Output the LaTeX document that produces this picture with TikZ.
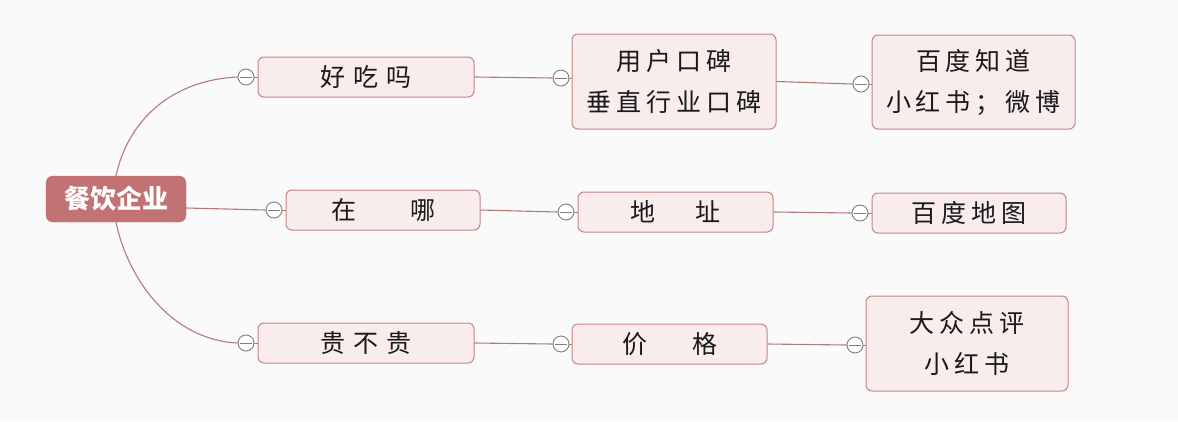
\documentclass[tikz,border=0pt]{standalone}
\usepackage{fontspec}
\setmainfont{Noto Sans CJK SC}
\definecolor{bg}{HTML}{FAFAFA}
\definecolor{rootfill}{HTML}{C27272}
\definecolor{boxfill}{HTML}{F8ECEC}
\definecolor{boxline}{HTML}{C98484}
\definecolor{conn}{HTML}{B47A7A}
\definecolor{knob}{HTML}{7F7F7F}
\newcommand\gp{\hspace{5pt}}
\begin{document}
\begin{tikzpicture}[x=1pt,y=-1pt,
  rootbox/.style={rounded corners=7pt, fill=rootfill, draw=rootfill, text=white,
    font=\fontsize{26}{28}\selectfont\bfseries, minimum width=140pt, minimum height=46pt, inner sep=0pt},
  topicbox/.style={rounded corners=6pt, fill=boxfill, draw=boxline, line width=1pt,
    font=\fontsize{25}{42}\selectfont, text=black!90, inner sep=0pt, align=center},
  knobc/.style={circle, draw=knob, fill=white, line width=0.9pt, minimum size=16pt, inner sep=0pt,
    path picture={\draw[knob, line width=0.9pt] ([xshift=-6pt]path picture bounding box.center) -- ([xshift=6pt]path picture bounding box.center);}},
  link/.style={draw=conn, line width=1.1pt}
]
\fill[bg] (0,0) rectangle (1178,421);
\useasboundingbox (0,0) rectangle (1178,421);

% root
\node[rootbox] (root) at (116,199) {餐饮企业};

% level 1
\node[topicbox, minimum width=216pt, minimum height=40pt] (n1) at (366,77) {好\hspace{8pt}吃\hspace{8pt}吗};
\node[topicbox, minimum width=194pt, minimum height=40pt] (n2) at (383,210) {在\hspace{54pt}哪};
\node[topicbox, minimum width=216pt, minimum height=40pt] (n3) at (366,343) {贵\hspace{8pt}不\hspace{8pt}贵};

% level 2
\node[topicbox, minimum width=204pt, minimum height=95pt] (m1) at (674,81.5) {用\gp 户\gp 口\gp 碑\\[-1pt]垂\gp 直\gp 行\gp 业\gp 口\gp 碑};
\node[topicbox, minimum width=195pt, minimum height=40pt] (m2) at (675.5,212) {地\hspace{40pt}址};
\node[topicbox, minimum width=195pt, minimum height=40pt] (m3) at (669.5,344) {价\hspace{45pt}格};

% level 3
\node[topicbox, minimum width=203pt, minimum height=94pt] (r1) at (973.5,82) {百\gp 度\gp 知\gp 道\\[-1pt]小\gp 红\gp 书\gp ；\gp 微\gp 博};
\node[topicbox, minimum width=194pt, minimum height=40pt] (r2) at (969,213) {百\gp 度\gp 地\gp 图};
\node[topicbox, minimum width=202pt, minimum height=95pt] (r3) at (967,343.5) {大\gp 众\gp 点\gp 评\\[-1pt]小\gp 红\gp 书};

% knobs
\node[knobc] (k1) at (246,77) {};
\node[knobc] (k2) at (274,210) {};
\node[knobc] (k3) at (246,343) {};
\node[knobc] (km1) at (561,78) {};
\node[knobc] (km2) at (566,212) {};
\node[knobc] (km3) at (561,344) {};
\node[knobc] (kr1) at (861,84) {};
\node[knobc] (kr2) at (860,213) {};
\node[knobc] (kr3) at (855,345) {};

% connectors root -> level 1
\draw[link] (root.north) .. controls (128,120) and (172,80) .. (k1.west);
\draw[link] ([yshift=-9pt]root.east) -- (k2.west);
\draw[link] (root.south) .. controls (128,280) and (172,340) .. (k3.west);

% level 1 -> level 2
\draw[link] (n1.east) -- (km1.west);
\draw[link] (n2.east) -- (km2.west);
\draw[link] (n3.east) -- (km3.west);

% level 2 -> level 3
\draw[link] (m1.east) -- (kr1.west);
\draw[link] (m2.east) -- (kr2.west);
\draw[link] (m3.east) -- (kr3.west);

% knob to box
\foreach \k/\b in {k1/n1,k2/n2,k3/n3,km1/m1,km2/m2,km3/m3,kr1/r1,kr2/r2,kr3/r3}
  \draw[link, line width=0.8pt] (\k.east) -- (\b.west |- \k.east);
\end{tikzpicture}
\end{document}
